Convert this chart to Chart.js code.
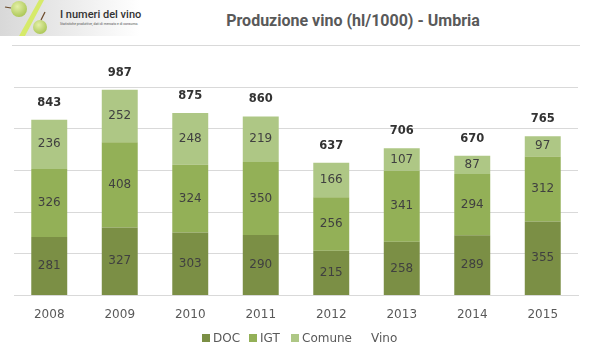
<!DOCTYPE html>
<html>
<head>
<meta charset="utf-8">
<script src="https://cdn.jsdelivr.net/npm/chart.js@4"></script>
<style>
  body { margin: 0; background: #fff; font-family: "DejaVu Sans", sans-serif; }
  #wrap { position: relative; width: 593px; height: 360px; overflow: hidden; }
  #chart { position: absolute; left: 0; top: 0; }
  #logo { position: absolute; left: 0; top: 0; }
  #title { position: absolute; left: 200px; width: 306px; top: 11px; text-align: center;
           font: bold 16px Roboto, sans-serif; color: #595959; }
  #rule { position: absolute; left: 12px; right: 13px; top: 45px; height: 1px; background: #d9d9d9; }
  #legend { position: absolute; top: 331px; left: 0; width: 593px; font-size: 12px; color: #595959; }
  .item { position: absolute; top: 0; white-space: nowrap; }
  .box { display: inline-block; width: 8px; height: 8px; margin-right: 3px; vertical-align: 0px; }
</style>
</head>
<body>
<div id="wrap">
  <svg id="logo" width="150" height="44" viewBox="0 0 150 44">
    <defs>
      <linearGradient id="bg" x1="0" x2="1" y1="0" y2="0">
        <stop offset="0" stop-color="#d8d8d8"/>
        <stop offset="1" stop-color="#ffffff"/>
      </linearGradient>
      <radialGradient id="grape" cx="0.4" cy="0.35" r="0.7">
        <stop offset="0" stop-color="#e4f0a8"/>
        <stop offset="1" stop-color="#a9c553"/>
      </radialGradient>
    </defs>
    <rect x="0" y="0" width="140" height="36" fill="url(#bg)"/>
    <circle cx="19" cy="9" r="8" fill="url(#grape)"/>
    <path d="M5 7 L11 8" stroke="#6b4a2a" stroke-width="1.2"/>
    <path d="M39 0 L44 0 L25 36 L19 36 Z" fill="#d6ea6a"/>
    <circle cx="40" cy="27" r="7" fill="url(#grape)"/>
    <path d="M41 20 L45 12" stroke="#6b4a2a" stroke-width="1.2"/>
    <text x="60" y="18" font-family="Roboto, sans-serif" font-size="11" font-weight="500" fill="#333">I numeri del vino</text>
    <text x="60" y="25" font-family="Roboto, sans-serif" font-size="3.4" fill="#555">Statistiche produttive, dati di mercato e di consumo.</text>
  </svg>
  <div id="title">Produzione vino (hl/1000) - Umbria</div>
  <div id="rule"></div>
  <canvas id="chart" width="593" height="360"></canvas>
  <div id="legend"></div>
</div>
<script>
const years = ['2008', '2009', '2010', '2011', '2012', '2013', '2014', '2015'];
const doc = [281, 327, 303, 290, 215, 258, 289, 355];
const igt = [326, 408, 324, 350, 256, 341, 294, 312];
const comune = [236, 252, 248, 219, 166, 107, 87, 97];
const vino = [843, 987, 875, 860, 637, 706, 670, 765];

const colDoc = '#7b8f45';
const colIgt = '#93b057';
const colComune = '#aec785';

// labels inside the segments and totals above the bars
const valueLabels = {
    id: 'valueLabels',
    afterDatasetsDraw(chart) {
        const ctx = chart.ctx;
        ctx.save();
        ctx.textAlign = 'center';
        ctx.textBaseline = 'middle';
        chart.data.datasets.forEach((ds, i) => {
            const meta = chart.getDatasetMeta(i);
            meta.data.forEach((el, j) => {
                if (ds.type === 'line') {
                    ctx.font = 'bold 11.5px "DejaVu Sans", sans-serif';
                    ctx.fillStyle = '#333333';
                    ctx.fillText(ds.data[j], el.x, el.y - 17);
                } else {
                    ctx.font = '12px "DejaVu Sans", sans-serif';
                    ctx.fillStyle = '#404040';
                    ctx.fillText(ds.data[j], el.x, (el.y + el.base) / 2);
                }
            });
        });
        ctx.restore();
    }
};

new Chart(document.getElementById('chart'), {
    type: 'bar',
    data: {
        labels: years,
        datasets: [
            { label: 'DOC', data: doc, backgroundColor: colDoc, stack: 's' },
            { label: 'IGT', data: igt, backgroundColor: colIgt, stack: 's' },
            { label: 'Comune', data: comune, backgroundColor: colComune, stack: 's' },
            { type: 'line', label: 'Vino', data: vino, showLine: false, pointRadius: 0, stack: 'tot' }
        ]
    },
    options: {
        responsive: false,
        animation: false,
        barPercentage: 0.51,
        categoryPercentage: 1,
        layout: { padding: { left: 14, right: 15, top: 87, bottom: 34 } },
        plugins: { legend: { display: false }, tooltip: { enabled: false } },
        scales: {
            x: {
                stacked: true,
                grid: { display: false },
                border: { color: '#d9d9d9' },
                ticks: { color: '#595959', font: { family: 'DejaVu Sans', size: 12 }, padding: 4 }
            },
            y: {
                stacked: true,
                min: 0,
                max: 1000,
                ticks: { display: false, stepSize: 200 },
                grid: { color: '#d9d9d9', drawTicks: false },
                border: { display: false }
            }
        }
    },
    plugins: [valueLabels]
});

// legend built from the dataset labels
const legendItems = [
    { text: 'DOC', color: colDoc, x: 202 },
    { text: 'IGT', color: colIgt, x: 249 },
    { text: 'Comune', color: colComune, x: 291 },
    { text: 'Vino', color: null, x: 371 }
];
const legend = document.getElementById('legend');
legendItems.forEach(it => {
    const d = document.createElement('div');
    d.className = 'item';
    d.style.left = it.x + 'px';
    d.innerHTML = (it.color ? `<span class="box" style="background:${it.color}"></span>` : '') + it.text;
    legend.appendChild(d);
});
</script>
</body>
</html>
